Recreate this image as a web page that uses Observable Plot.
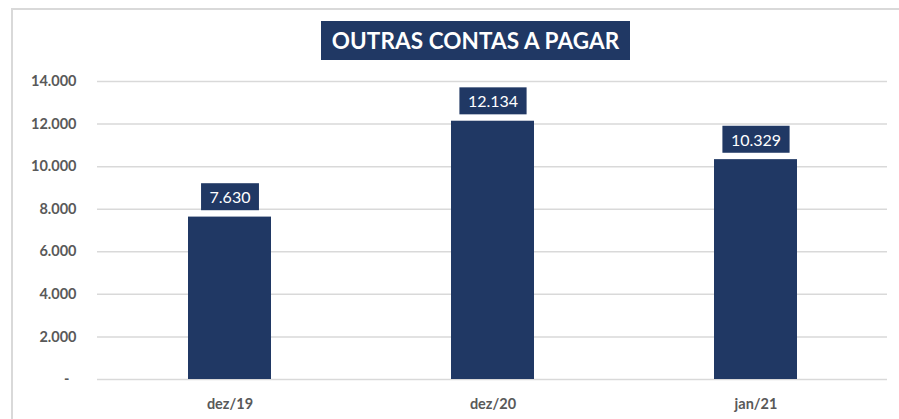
<!DOCTYPE html>
<html><head><meta charset="utf-8">
<script src="https://cdn.jsdelivr.net/npm/d3@7"></script>
<script src="https://cdn.jsdelivr.net/npm/@observablehq/plot@0.6"></script>
<style>
body{margin:0;background:#fff;}
#wrap{position:relative;width:899px;height:419px;overflow:hidden;font-family:Lato,"Open Sans",sans-serif;}
#frame{position:absolute;left:11px;top:8px;right:-10px;bottom:-10px;border-left:2px solid #d9d9d9;border-top:2px solid #d9d9d9;}
#title{position:absolute;left:321px;top:21px;width:309px;height:39px;background:#203864;color:#fff;font-weight:bold;font-size:22.5px;display:flex;align-items:center;justify-content:center;letter-spacing:0.1px;}
#chart{position:absolute;left:0;top:0;}
</style></head>
<body><div id="wrap"><div id="frame"></div><div id="chart"></div><div id="title">OUTRAS CONTAS A PAGAR</div></div>
<script>
const categories = ["dez/19", "dez/20", "jan/21"];
const values = [7630, 12134, 10329];
const yTicks = [0, 2000, 4000, 6000, 8000, 10000, 12000, 14000];

const data = categories.map((c, i) => ({cat: c, value: values[i]}));
const br = d3.formatLocale({decimal: ",", thousands: ".", grouping: [3], currency: ["R$", ""]});
const fmt = br.format(",d");
const navy = "#203864";

const chart = Plot.plot({
  width: 899,
  height: 419,
  marginTop: 81,
  marginBottom: 40,
  marginLeft: 97,
  marginRight: 12,
  style: {fontFamily: "Lato, 'Open Sans', sans-serif", background: "transparent", overflow: "visible"},
  x: {domain: categories, paddingInner: 0.685, paddingOuter: 0.3425, label: null},
  y: {domain: [0, 14000], label: null},
  marks: [
    Plot.gridY(yTicks, {stroke: "#d9d9d9", strokeOpacity: 1, strokeWidth: 1.5}),
    Plot.axisY(yTicks, {tickSize: 0, tickPadding: 21, tickFormat: d => d === 0 ? "-\u00a0\u00a0" : fmt(d),
      fontSize: 14.5, fontWeight: "bold", fill: "#595959", label: null}),
    Plot.axisX({tickSize: 0, tickPadding: 19, fontSize: 14.5, fontWeight: "bold", fill: "#595959", label: null}),
    Plot.barY(data, {x: "cat", y: "value", fill: navy}),
    Plot.text(data, {x: "cat", y: "value", text: d => fmt(d.value), dy: -19, lineAnchor: "middle",
      fill: "#fff", fontSize: 16, className: "vlabel"})
  ]
});
document.getElementById("chart").appendChild(chart);

// add dark boxes behind the value labels, sized from the rendered text
d3.select(chart).selectAll("g.vlabel text").each(function() {
  const b = this.getBBox();
  const padX = 8.5, h = 27;
  const cy = b.y + b.height / 2;
  d3.select(this.parentNode).insert("rect", () => this)
    .attr("x", b.x - padX).attr("y", cy - h / 2)
    .attr("width", b.width + 2 * padX).attr("height", h)
    .attr("fill", navy)
    .attr("transform", this.getAttribute("transform"));
});
</script>
</body></html>
